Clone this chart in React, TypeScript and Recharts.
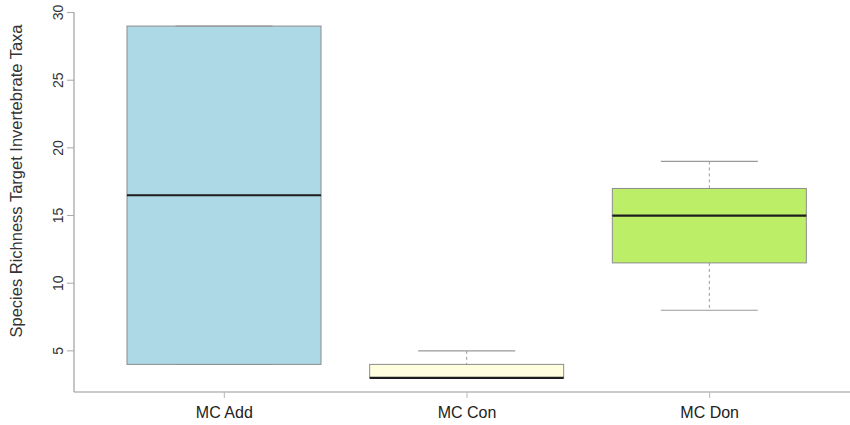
import { ComposedChart, Bar, XAxis, YAxis } from "recharts";

const categories = ["MC Add", "MC Con", "MC Don"];
const mins = [4, 3, 8];
const q1s = [4, 3, 11.5];
const medians = [16.5, 3, 15];
const q3s = [29, 4, 17];
const maxs = [29, 5, 19];
const boxColors = ["#add8e6", "#ffffe0", "#bcee68"];
const yTicks = [5, 10, 15, 20, 25, 30];

const data = categories.map((name, i) => ({
  name,
  fill: boxColors[i],
  base: mins[i],
  lowerWhisker: q1s[i] - mins[i],
  lowerBox: medians[i] - q1s[i],
  upperBox: q3s[i] - medians[i],
  upperWhisker: maxs[i] - q3s[i],
}));

const whiskerColor = "#9a9a9a";
const boxStroke = "#8c8c8c";

function LowerWhisker(props: any) {
  const { x, y, width, height } = props;
  const cx = x + width / 2;
  const bottom = y + height;
  return (
    <g>
      <line x1={cx} x2={cx} y1={y} y2={bottom} stroke={whiskerColor} strokeDasharray="3 3" />
      <line x1={cx - width / 4} x2={cx + width / 4} y1={bottom} y2={bottom} stroke={whiskerColor} strokeWidth={1.2} />
    </g>
  );
}

function UpperWhisker(props: any) {
  const { x, y, width, height } = props;
  const cx = x + width / 2;
  return (
    <g>
      <line x1={cx} x2={cx} y1={y} y2={y + height} stroke={whiskerColor} strokeDasharray="3 3" />
      <line x1={cx - width / 4} x2={cx + width / 4} y1={y} y2={y} stroke={whiskerColor} strokeWidth={1.2} />
    </g>
  );
}

function LowerBox(props: any) {
  const { x, y, width, height, payload } = props;
  if (!height) return <g />;
  return <rect x={x} y={y} width={width} height={height} fill={payload.fill} stroke={boxStroke} />;
}

function UpperBox(props: any) {
  const { x, y, width, height, payload } = props;
  return (
    <g>
      <rect x={x} y={y} width={width} height={height} fill={payload.fill} stroke={boxStroke} />
      <line x1={x} x2={x + width} y1={y + height} y2={y + height} stroke="#1e1e1e" strokeWidth={2.2} />
    </g>
  );
}

function YTick(props: any) {
  const { x, y, payload } = props;
  return (
    <text
      x={x - 2}
      y={y}
      transform={`rotate(-90 ${x - 2} ${y})`}
      textAnchor="middle"
      fontSize={14}
      fill="#333"
      fontFamily="'Liberation Sans', Arial, sans-serif"
    >
      {payload.value}
    </text>
  );
}

function XTick(props: any) {
  const { x, y, payload } = props;
  return (
    <text
      x={x}
      y={y + 18}
      textAnchor="middle"
      fontSize={16}
      fill="#222"
      fontFamily="'Liberation Sans', Arial, sans-serif"
    >
      {payload.value}
    </text>
  );
}

export default function App() {
  return (
    <div
      style={{
        position: "absolute",
        left: 0,
        top: 0,
        width: 850,
        height: 425,
        overflow: "hidden",
        background: "#fff",
      }}
    >
      <ComposedChart
        width={860}
        height={425}
        data={data}
        margin={{ top: 12, right: 0, bottom: 0, left: 0 }}
      >
        <XAxis
          xAxisId="top"
          orientation="top"
          dataKey="name"
          height={0}
          tick={false}
          tickLine={false}
          axisLine={{ stroke: "#c4c4c4", strokeWidth: 1.5 }}
          padding={{ left: 29, right: 29 }}
        />
        <XAxis
          dataKey="name"
          height={33}
          padding={{ left: 29, right: 29 }}
          axisLine={{ stroke: "#b8b8b8", strokeWidth: 1.3 }}
          tickLine={{ stroke: "#b8b8b8" }}
          tickSize={6}
          tick={<XTick />}
        />
        <YAxis
          width={74}
          type="number"
          domain={[1.96, 30.04]}
          allowDataOverflow
          ticks={yTicks}
          tickSize={7}
          axisLine={{ stroke: "#a8a8a8", strokeWidth: 1.3 }}
          tickLine={{ stroke: "#a8a8a8" }}
          tick={<YTick />}
          label={{
            content: () => (
              <text
                x={16}
                y={181}
                transform="rotate(-90 16 181)"
                textAnchor="middle"
                dominantBaseline="central"
                fontSize={16.5}
                fill="#333"
                fontFamily="'Liberation Sans', Arial, sans-serif"
              >
                Species Richness Target Invertebrate Taxa
              </text>
            ),
          }}
        />
        <Bar dataKey="base" stackId="box" barSize={194} fill="none" shape={() => <g />} isAnimationActive={false} />
        <Bar dataKey="lowerWhisker" stackId="box" barSize={194} shape={<LowerWhisker />} isAnimationActive={false} />
        <Bar dataKey="lowerBox" stackId="box" barSize={194} shape={<LowerBox />} isAnimationActive={false} />
        <Bar dataKey="upperBox" stackId="box" barSize={194} shape={<UpperBox />} isAnimationActive={false} />
        <Bar dataKey="upperWhisker" stackId="box" barSize={194} shape={<UpperWhisker />} isAnimationActive={false} />
      </ComposedChart>
    </div>
  );
}
